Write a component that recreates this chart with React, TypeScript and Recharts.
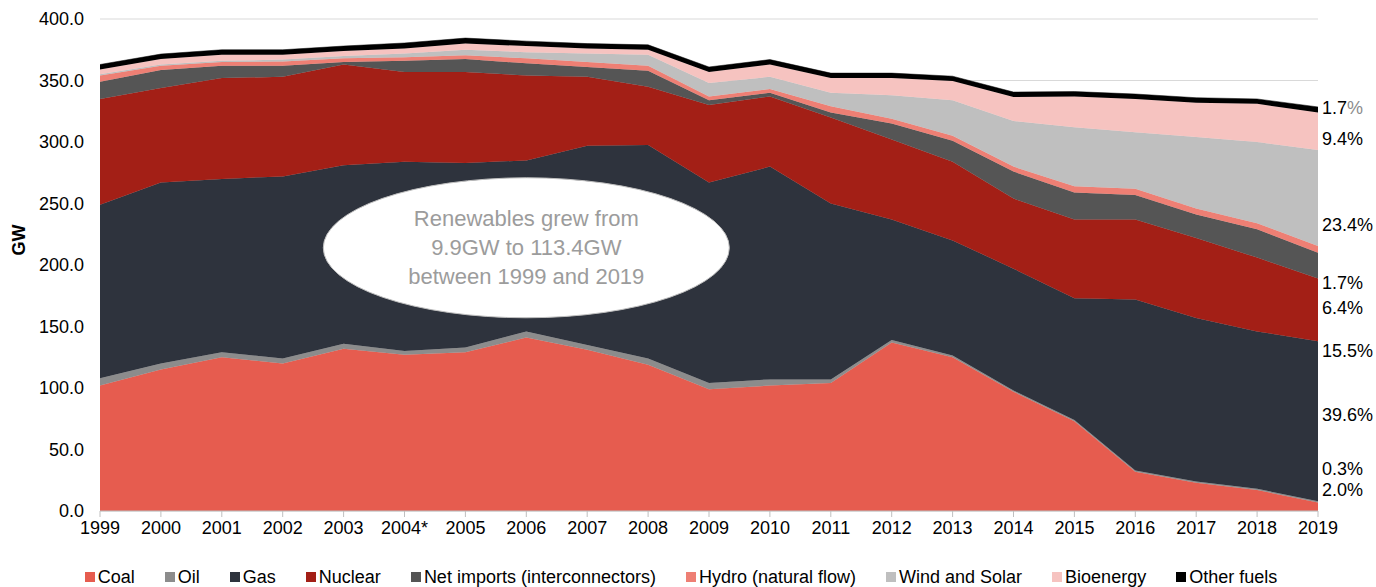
import React from 'react';
import { AreaChart, Area, XAxis, YAxis, CartesianGrid, ReferenceDot } from 'recharts';

const years = ['1999','2000','2001','2002','2003','2004*','2005','2006','2007','2008','2009','2010','2011','2012','2013','2014','2015','2016','2017','2018','2019'];
const coal = [102,115,125,120,132,127,129,141,131,119,99,102,104,137,125,97,73,32,23,17,7];
const oil = [6,5,4,4,4,3,4,5,4,5,5,5,3,2,1.5,1,1,1,1,1,1];
const gas = [141,147,141,148,145,154,150,139,162,173.5,163,173,143,98,93.5,99,99,139,133,128,130];
const nuclear = [86,77,82,81,82,73,74,69,56,47.5,63,57,70,65,64,57,64,65,65,60,51];
const netImports = [14,14.5,10,9,2,9,10.5,10,8,13,4,3,4,13,17,22,22,20,19,23,21];
const hydro = [5,3.5,3,3.5,3,3,3,4,4,4,3,3,5,4,4,4,5,5,5,5,5.5];
const windSolar = [1,1,1,1.5,2,3,4.5,5,7,9,11,10,11,19,29,37,48,46,58,66,78];
const bioenergy = [4,4.5,5,4,4,4,5,5,4,4,9,10,12,14,15.5,19.6,25,27,28,31,30.5];
const otherFuels = [4,4,4,4,4,4.5,4.5,4,4,4,4,4,4,4,4,4,4,4,4,4,4.5];

const yTicks = [0, 50, 100, 150, 200, 250, 300, 350, 400];

const shareLabels = ['1.7%', '9.4%', '23.4%', '1.7%', '6.4%', '15.5%', '39.6%', '0.3%', '2.0%'];
const shareLabelLevels = [328, 302.5, 232.5, 185, 165, 130, 78, 34, 17];

const seriesNames = ['Coal','Oil','Gas','Nuclear','Net imports (interconnectors)','Hydro (natural flow)','Wind and Solar','Bioenergy','Other fuels'];
const seriesKeys = ['coal','oil','gas','nuclear','netImports','hydro','windSolar','bioenergy','otherFuels'];
const seriesColors = ['#E65C4F','#8C8C8C','#2E333D','#A31F16','#555555','#EE7F74','#BFBFBF','#F6C3C0','#000000'];
const seriesValues = [coal, oil, gas, nuclear, netImports, hydro, windSolar, bioenergy, otherFuels];

const data = years.map((year, i) => {
  const row: Record<string, any> = { year };
  seriesKeys.forEach((k, j) => { row[k] = seriesValues[j][i]; });
  return row;
});

const FONT = '"Liberation Sans", Arial, sans-serif';

const annotationLines = ['Renewables grew from', '9.9GW to 113.4GW', 'between 1999 and 2019'];

const Bubble = (props: any) => {
  const { cx, cy } = props;
  if (cx == null || cy == null) return null;
  return (
    <g>
      <ellipse cx={cx} cy={cy} rx={203} ry={70} fill="#FFFFFF" stroke="#BFBFBF" strokeWidth={1} />
      {annotationLines.map((t, i) => (
        <text key={i} x={cx} y={cy + (i - 1) * 29} textAnchor="middle" dominantBaseline="central"
          fontFamily={FONT} fontSize={22} fill="#9C9C9C">{t}</text>
      ))}
    </g>
  );
};

const ShareLabel = (text: string, idx: number) => (props: any) => {
  const vb = props.viewBox || {};
  const x = (vb.x || 0) + (vb.width || 0) + 4;
  const y = (vb.y || 0) + (vb.height || 0) / 2;
  if (idx === 0) {
    return (
      <text x={x} y={y} dominantBaseline="central" fontFamily={FONT} fontSize={18} fill="#000">
        {text.slice(0, -1)}<tspan fill="#8C8C8C">%</tspan>
      </text>
    );
  }
  return (
    <text x={x} y={y} dominantBaseline="central" fontFamily={FONT} fontSize={18} fill="#000">{text}</text>
  );
};

const GWLabel = () => (
  <text x={0} y={0} transform="translate(19,240) rotate(-90)" textAnchor="middle" dominantBaseline="central"
    fontFamily={FONT} fontSize={18} fontWeight="bold" fill="#000">GW</text>
);

export default function App() {
  return (
    <div style={{ position: 'absolute', left: 0, top: 0, width: 1376, height: 587, background: '#fff', fontFamily: FONT }}>
      <AreaChart width={1376} height={587} data={data} margin={{ top: 19, right: 58, bottom: 46, left: 0 }}>
        <CartesianGrid vertical={false} stroke="#D9D9D9" />
        <XAxis dataKey="year" height={30} tickSize={6} tickMargin={4} stroke="#BFBFBF"
          tick={{ fill: '#000', fontSize: 18, fontFamily: FONT }} interval={0} />
        <YAxis width={100} domain={[0, 400]} ticks={yTicks} axisLine={false} tickLine={false}
          tickSize={0} tickMargin={16} tickFormatter={(v: number) => v.toFixed(1)}
          tick={{ fill: '#000', fontSize: 18, fontFamily: FONT }} label={<GWLabel />} />
        {seriesKeys.map((k, j) => (
          <Area key={k} type="linear" dataKey={k} name={seriesNames[j]} stackId="a"
            fill={seriesColors[j]} fillOpacity={1} stroke={seriesColors[j]} strokeWidth={0.5}
            isAnimationActive={false} dot={false} activeDot={false} />
        ))}
        <ReferenceDot x="2006" y={214} r={0} shape={<Bubble />} ifOverflow="visible" />
        {shareLabels.map((t, i) => (
          <ReferenceDot key={i} x="2019" y={shareLabelLevels[i]} r={0} fill="none" stroke="none"
            ifOverflow="visible" label={ShareLabel(t, i)} />
        ))}
      </AreaChart>
      <div style={{ position: 'absolute', left: 0, top: 566, width: 1362, display: 'flex', justifyContent: 'center', gap: 30, fontSize: 18, lineHeight: '22px', color: '#000' }}>
        {seriesNames.map((n, j) => (
          <div key={n} style={{ display: 'flex', alignItems: 'center' }}>
            <span style={{ display: 'inline-block', width: 10, height: 10, background: seriesColors[j], marginRight: 3 }} />
            <span>{n}</span>
          </div>
        ))}
      </div>
    </div>
  );
}
